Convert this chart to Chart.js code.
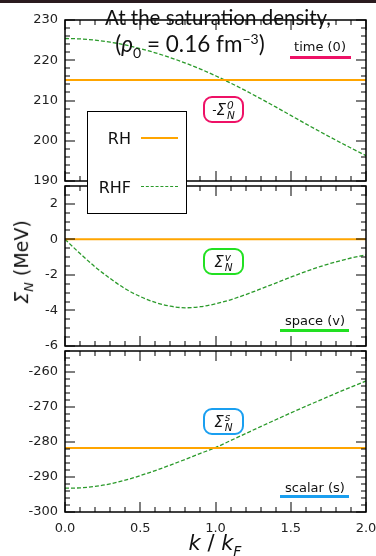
<!DOCTYPE html>
<html>
<head>
<meta charset="utf-8">
<script src="https://cdn.jsdelivr.net/npm/chart.js@4.4.1/dist/chart.umd.min.js"></script>
<style>
  html, body { margin: 0; padding: 0; background: #fff; }
  #wrap { position: relative; width: 376px; height: 556px; overflow: hidden; background: #fff; font-family: 'DejaVu Sans', sans-serif; color: #111; }
  canvas { position: absolute; left: 0; top: 0; }
  .abs { position: absolute; white-space: nowrap; }
  .topbar { left: 0; top: 0; width: 376px; height: 3px; background: #2a1b1f; }
  .title { font-family: 'Lato', sans-serif; transform: translate(-50%, -50%); }
  .tag { font-size: 13px; transform: translate(-50%, -50%); }
  .uline { height: 2.5px; }
  .box { border: 2px solid; border-radius: 9px; background: #fff; width: 37px; height: 23px; display: flex; align-items: center; justify-content: center; font-style: italic; font-size: 15px; }
  .ss { display: inline-flex; flex-direction: column; font-size: 10.5px; line-height: 10px; margin-left: 1px; }
  .legend { left: 87px; top: 111px; width: 98px; height: 101px; border: 1px solid #000; background: #fff; z-index: 5; }
  .legend .lab { position: absolute; right: 55px; font-size: 16px; transform: translateY(-50%); }
  .legend .smp { position: absolute; left: 53px; width: 37px; }
</style>
</head>
<body>
<div id="wrap">
  <canvas id="cTime" width="376" height="556"></canvas>
  <canvas id="cSpace" width="376" height="556"></canvas>
  <canvas id="cScalar" width="376" height="556"></canvas>

  <div class="abs topbar"></div>

  <div class="abs title" style="left:218px; top:17px; font-size:20.5px;">At the saturation density,</div>
  <div class="abs title" style="left:190px; top:45px; font-size:22.5px;">(<i>ρ</i><sub style="font-size:14px">0</sub> = 0.16 fm<sup style="font-size:14px">−3</sup>)</div>

  <div class="abs tag" style="left:320px; top:46px;">time (0)</div>
  <div class="abs uline" style="left:290px; top:56px; width:61px; background:#ee1166;"></div>
  <div class="abs box" style="left:203px; top:96px; border-color:#ee1166;"><span style="font-style:normal;font-size:12px">-</span>Σ<span class="ss"><span>0</span><span>N</span></span></div>

  <div class="abs tag" style="left:315px; top:320px;">space (v)</div>
  <div class="abs uline" style="left:280px; top:329px; width:69px; background:#22e022;"></div>
  <div class="abs box" style="left:203px; top:248px; border-color:#22e022;">Σ<span class="ss"><span>v</span><span>N</span></span></div>

  <div class="abs tag" style="left:315px; top:487px;">scalar (s)</div>
  <div class="abs uline" style="left:280px; top:495px; width:69px; background:#1a9ff0;"></div>
  <div class="abs box" style="left:203px; top:408px; border-color:#1a9ff0;">Σ<span class="ss"><span>s</span><span>N</span></span></div>

  <div class="abs legend">
    <div class="lab" style="top:26px;">RH</div>
    <div class="smp" style="top:25px; border-top:2px solid #ffa500;"></div>
    <div class="lab" style="top:75px;">RHF</div>
    <div class="smp" style="top:74px; border-top:1.5px dashed #2a9a2a;"></div>
  </div>

  <div class="abs" style="left:23px; top:262px; font-size:19px; transform:translate(-50%,-50%) rotate(-90deg);"><i>Σ</i><sub style="font-size:13px"><i>N</i></sub> (MeV)</div>
  <div class="abs" style="left:215px; top:545px; font-size:21px; transform:translate(-50%,-50%);"><i>k</i> / <i>k</i><sub style="font-size:14px"><i>F</i></sub></div>
</div>

<script>
// momentum k / kF
const kVals = [0.0, 0.1, 0.2, 0.3, 0.4, 0.5, 0.6, 0.7, 0.8, 0.9, 1.0,
               1.1, 1.2, 1.3, 1.4, 1.5, 1.6, 1.7, 1.8, 1.9, 2.0];

// RH self-energies are flat in k
const rhK = [0, 2];
const rhTime = [215.1, 215.1];
const rhSpace = [0, 0];
const rhScalar = [-281.7, -281.7];

// RHF self-energies (MeV)
const rhfTime = [225.4, 225.3, 225.0, 224.5, 223.8, 222.9, 221.85, 220.65, 219.3, 217.8, 216.15,
                 214.35, 212.45, 210.45, 208.4, 206.3, 204.2, 202.15, 200.15, 198.2, 196.3];
const rhfSpace = [0, -0.80, -1.55, -2.20, -2.78, -3.22, -3.55, -3.76, -3.85, -3.79, -3.63,
                  -3.40, -3.11, -2.79, -2.46, -2.13, -1.81, -1.52, -1.27, -1.05, -0.88];
const rhfScalar = [-293.2, -293.1, -292.7, -291.95, -290.9, -289.6, -288.15, -286.6, -284.95, -283.25, -281.6,
                   -279.6, -277.6, -275.6, -273.65, -271.7, -269.8, -267.95, -266.1, -264.3, -262.55];

// axis ticks
const timeTicks = [190, 200, 210, 220, 230];
const spaceTicks = [-6, -4, -2, 0, 2];
const scalarTicks = [-300, -290, -280, -270, -260];
const xTicks = [0.0, 0.5, 1.0, 1.5, 2.0];

const ORANGE = '#ffa500';
const GREEN = '#2a9a2a';

function pts(xs, ys) {
  return xs.map((x, i) => ({ x: x, y: ys[i] }));
}

// frame + inward ticks on all four sides
function frameTicks(yMin, yMax, yMajor, yMinor) {
  return {
    id: 'frameTicks',
    afterDraw(chart) {
      const { ctx, chartArea: a } = chart;
      const x = chart.scales.x, y = chart.scales.y;
      ctx.save();
      ctx.fillStyle = '#000';
      for (let i = 0; i <= 20; i++) {
        const px = Math.round(x.getPixelForValue(i / 10));
        const len = i % 5 === 0 ? 10 : 5;
        ctx.fillRect(px - 0.5, a.bottom - len, 1, len);
        ctx.fillRect(px - 0.5, a.top, 1, len);
      }
      const n = Math.round((yMax - yMin) / yMinor);
      for (let i = 0; i <= n; i++) {
        const v = yMin + i * yMinor;
        const py = Math.round(y.getPixelForValue(v));
        const major = yMajor.some(m => Math.abs(m - v) < 1e-6);
        const len = major ? 10 : 5;
        ctx.fillRect(a.left, py - 0.5, len, 1);
        ctx.fillRect(a.right - len, py - 0.5, len, 1);
      }
      ctx.strokeStyle = '#000';
      ctx.lineWidth = 1.5;
      ctx.strokeRect(a.left, a.top, a.right - a.left, a.bottom - a.top);
      ctx.restore();
    }
  };
}

function makePanel(id, rh, rhf, yMin, yMax, yMajor, yMinor, padTop, padBottom, showX) {
  return new Chart(document.getElementById(id), {
    type: 'line',
    data: {
      datasets: [
        { label: 'RH', data: pts(rhK, rh), borderColor: ORANGE, borderWidth: 2, pointRadius: 0 },
        { label: 'RHF', data: pts(kVals, rhf), borderColor: GREEN, borderWidth: 1.3, borderDash: [4, 2],
          pointRadius: 0, cubicInterpolationMode: 'monotone' }
      ]
    },
    options: {
      responsive: false,
      devicePixelRatio: 1,
      animation: false,
      events: [],
      layout: { padding: { left: 0, right: 10, top: padTop, bottom: padBottom } },
      plugins: {
        legend: { display: false },
        tooltip: { enabled: false }
      },
      scales: {
        x: {
          type: 'linear',
          min: 0, max: 2,
          display: showX,
          grid: { display: false, drawTicks: false },
          border: { display: false },
          afterBuildTicks: s => { s.ticks = xTicks.map(v => ({ value: v })); },
          afterFit: s => { if (showX) s.height = 30; s.paddingLeft = 0; s.paddingRight = 0; },
          ticks: {
            padding: 9,
            color: '#222',
            font: { family: 'DejaVu Sans', size: 13 },
            callback: v => v.toFixed(1)
          }
        },
        y: {
          type: 'linear',
          min: yMin, max: yMax,
          grid: { display: false, drawTicks: false },
          border: { display: false },
          afterBuildTicks: s => { s.ticks = yMajor.map(v => ({ value: v })); },
          afterFit: s => { s.width = 65; },
          ticks: {
            padding: 7,
            color: '#222',
            font: { family: 'DejaVu Sans', size: 13 },
            callback: v => String(v)
          }
        }
      }
    },
    plugins: [frameTicks(yMin, yMax, yMajor, yMinor)]
  });
}

makePanel('cTime', rhTime, rhfTime, 190, 230, timeTicks, 2, 20, 556 - 181, false);
makePanel('cSpace', rhSpace, rhfSpace, -6, 3, spaceTicks, 0.5, 186, 556 - 346, false);
makePanel('cScalar', rhScalar, rhfScalar, -300, -254, scalarTicks, 2, 351, 14, true);
</script>
</body>
</html>
